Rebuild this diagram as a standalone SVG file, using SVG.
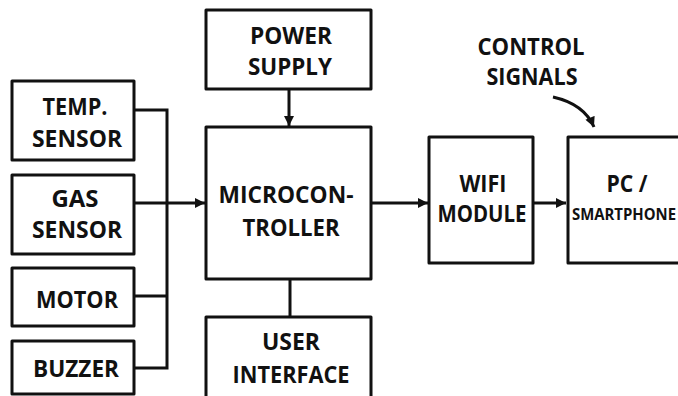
<svg xmlns="http://www.w3.org/2000/svg" width="678" height="396" viewBox="0 0 678 396">
<defs>
<style>
.box{fill:#fff;stroke:#111;stroke-width:3;stroke-linejoin:round}
.ln{fill:none;stroke:#111;stroke-width:3}
.t{font-family:"Open Sans","Liberation Sans",sans-serif;font-weight:bold;font-size:24px;fill:#111}
.s{font-size:16px}
</style>
<marker id="ah" viewBox="0 0 10 10" refX="10" refY="5" markerWidth="11" markerHeight="10" markerUnits="userSpaceOnUse" orient="auto">
<path d="M0,0 L10,5 L0,10 Z" fill="#111"/>
</marker>
</defs>
<rect width="678" height="396" fill="#fff"/>
<g id="connectors">
<path class="ln" d="M134,110 H167 V368 H134"/>
<path class="ln" d="M134,296 H167"/>
<path class="ln" d="M134,203 H205" marker-end="url(#ah)"/>
<path class="ln" d="M289,89 V126" marker-end="url(#ah)"/>
<path class="ln" d="M290,279 V317"/>
<path class="ln" d="M371,203 H428" marker-end="url(#ah)"/>
<path class="ln" d="M533,203 H566" marker-end="url(#ah)"/>
<path class="ln" d="M553,97 Q584,104 594,127" marker-end="url(#ah)"/>
</g>
<g id="power">
<rect class="box" x="206" y="10" width="165" height="79"/>
<text class="t" x="291" y="44" text-anchor="middle" textLength="82" lengthAdjust="spacingAndGlyphs">POWER</text>
<text class="t" x="290" y="75" text-anchor="middle" textLength="84" lengthAdjust="spacingAndGlyphs">SUPPLY</text>
</g>
<g id="temp">
<rect class="box" x="12" y="81" width="122" height="79"/>
<text class="t" x="75" y="115" text-anchor="middle" textLength="65" lengthAdjust="spacingAndGlyphs">TEMP.</text>
<text class="t" x="77" y="147" text-anchor="middle" textLength="90" lengthAdjust="spacingAndGlyphs">SENSOR</text>
</g>
<g id="gas">
<rect class="box" x="12" y="175" width="122" height="79"/>
<text class="t" x="75" y="207" text-anchor="middle" textLength="47" lengthAdjust="spacingAndGlyphs">GAS</text>
<text class="t" x="77" y="238" text-anchor="middle" textLength="90" lengthAdjust="spacingAndGlyphs">SENSOR</text>
</g>
<g id="motor">
<rect class="box" x="12" y="268" width="122" height="58"/>
<text class="t" x="77" y="308" text-anchor="middle" textLength="82" lengthAdjust="spacingAndGlyphs">MOTOR</text>
</g>
<g id="buzzer">
<rect class="box" x="12" y="341" width="122" height="53"/>
<text class="t" x="76" y="377" text-anchor="middle" textLength="86" lengthAdjust="spacingAndGlyphs">BUZZER</text>
</g>
<g id="micro">
<rect class="box" x="206" y="127" width="165" height="152"/>
<text class="t" x="286" y="203" text-anchor="middle" textLength="135" lengthAdjust="spacingAndGlyphs">MICROCON-</text>
<text class="t" x="291" y="236" text-anchor="middle" textLength="97" lengthAdjust="spacingAndGlyphs">TROLLER</text>
</g>
<g id="ui">
<rect class="box" x="206" y="317" width="165" height="90"/>
<text class="t" x="291" y="350" text-anchor="middle" textLength="58" lengthAdjust="spacingAndGlyphs">USER</text>
<text class="t" x="291" y="383" text-anchor="middle" textLength="117" lengthAdjust="spacingAndGlyphs">INTERFACE</text>
</g>
<g id="wifi">
<rect class="box" x="429" y="137" width="104" height="126"/>
<text class="t" x="483" y="192" text-anchor="middle" textLength="47" lengthAdjust="spacingAndGlyphs">WIFI</text>
<text class="t" x="482" y="222" text-anchor="middle" textLength="89" lengthAdjust="spacingAndGlyphs">MODULE</text>
</g>
<g id="pc">
<rect class="box" x="568" y="137" width="130" height="126"/>
<text class="t" x="627" y="192" text-anchor="middle" textLength="41" lengthAdjust="spacingAndGlyphs">PC /</text>
<text class="t s" x="572" y="220" textLength="104" lengthAdjust="spacingAndGlyphs">SMARTPHONE</text>
</g>
<g id="control">
<text class="t" x="531" y="55" text-anchor="middle" textLength="107" lengthAdjust="spacingAndGlyphs">CONTROL</text>
<text class="t" x="532" y="85" text-anchor="middle" textLength="91" lengthAdjust="spacingAndGlyphs">SIGNALS</text>
</g>
</svg>
